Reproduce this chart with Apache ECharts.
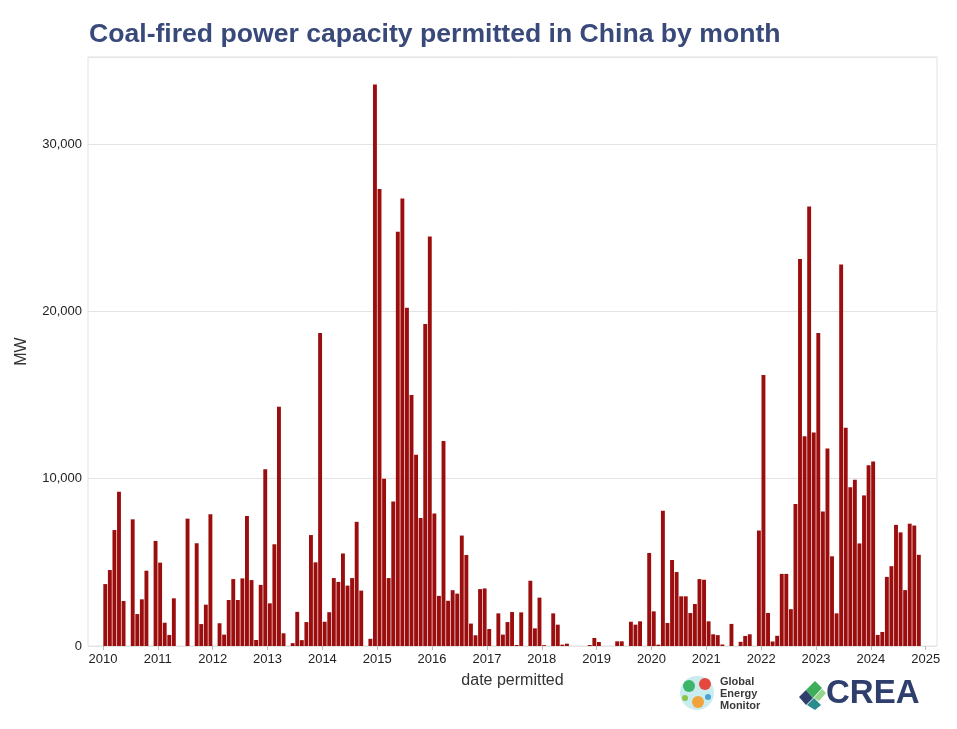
<!DOCTYPE html>
<html>
<head>
<meta charset="utf-8">
<script src="https://cdn.jsdelivr.net/npm/echarts@6/dist/echarts.min.js"></script>
<style>
html,body{margin:0;padding:0;background:#fff;}
#chart{width:957px;height:729px;}
</style>
</head>
<body>
<div id="chart"></div>
<script>
// Monthly permitted capacity (MW), Jan..Dec of each year
const years = [2010,2011,2012,2013,2014,2015,2016,2017,2018,2019,2020,2021,2022,2023,2024];
const mw2010 = [3700,4540,6930,9220,2690,0,7570,1910,2790,4500,0,6280];
const mw2011 = [4980,1390,660,2850,0,0,7610,0,6140,1310,2470,7870];
const mw2012 = [0,1360,680,2750,4000,2750,4040,7770,3940,360,3650,10560];
const mw2013 = [2550,6080,14300,760,0,170,2040,350,1430,6630,5000,18700];
const mw2014 = [1450,2020,4060,3830,5530,3610,4060,7420,3310,0,430,33550];
const mw2015 = [27310,10000,4060,8640,24750,26750,20210,15000,11430,7650,19240,24480];
const mw2016 = [7920,2995,12250,2700,3335,3130,6600,5440,1340,640,3400,3440];
const mw2017 = [1015,0,1950,680,1430,2030,60,2010,0,3900,1055,2890];
const mw2018 = [50,0,1950,1275,80,140,0,0,0,0,60,480];
const mw2019 = [240,0,0,0,280,280,0,1450,1275,1475,0,5560];
const mw2020 = [2070,80,8090,1375,5140,4420,2970,2970,1970,2510,4000,3960];
const mw2021 = [1475,700,650,90,0,1320,0,250,600,700,0,6900];
const mw2022 = [16200,1975,270,610,4310,4310,2200,8490,23130,12530,26260,12760];
const mw2023 = [18700,8040,11800,5360,1950,22800,13050,9490,9940,6130,9000,10800];
const mw2024 = [11030,660,840,4130,4770,7240,6790,3340,7310,7200,5450,null];
const yearTicks = [2010,2011,2012,2013,2014,2015,2016,2017,2018,2019,2020,2021,2022,2023,2024,2025];
const yTicks = [0,10000,20000,30000];

const allYears = [mw2010,mw2011,mw2012,mw2013,mw2014,mw2015,mw2016,mw2017,mw2018,mw2019,mw2020,mw2021,mw2022,mw2023,mw2024];
const barData = [];
allYears.forEach((arr, yi) => {
  arr.forEach((v, m) => {
    if (v !== null && v > 0) barData.push([yi * 12 + m + 0.5, v]);
  });
});
const tickVals = yearTicks.map(y => (y - 2010) * 12);

const chart = echarts.init(document.getElementById('chart'), null, {renderer: 'canvas'});
const FONT = 'Liberation Sans, Arial, sans-serif';
chart.setOption({
  animation: false,
  backgroundColor: '#ffffff',
  title: {
    text: 'Coal-fired power capacity permitted in China by month',
    left: 84, top: 16,
    textStyle: {fontFamily: FONT, fontWeight: 'bold', fontSize: 26.6, color: '#38497a'}
  },
  grid: {left: 88, right: 20, top: 57, bottom: 83, outerBoundsMode: 'none', containLabel: false,
         show: true, borderColor: '#e2e2e2', borderWidth: 1, backgroundColor: '#fff'},
  xAxis: {
    type: 'value',
    min: -3.28, max: 182.47,
    name: 'date permitted', nameLocation: 'middle', nameGap: 27,
    nameTextStyle: {fontFamily: FONT, fontSize: 16, color: '#333'},
    axisLine: {show: false},
    axisTick: {show: true, customValues: tickVals, length: 4, lineStyle: {color: '#bbb'}},
    axisLabel: {customValues: tickVals, formatter: v => String(2010 + Math.round(v / 12)), fontFamily: FONT, fontSize: 13, color: '#222', margin: 7},
    splitLine: {show: false}
  },
  yAxis: {
    type: 'value',
    min: 0, max: 35200,
    name: 'MW', nameLocation: 'middle', nameGap: 58, nameRotate: 90,
    nameTextStyle: {fontFamily: FONT, fontSize: 16, color: '#333'},
    axisLine: {show: false}, axisTick: {show: false},
    axisLabel: {customValues: yTicks, formatter: v => v.toLocaleString('en-US'), fontFamily: FONT, fontSize: 13, color: '#222', margin: 6},
    splitLine: {show: true, lineStyle: {color: '#e4e4e4', width: 1}}
  },
  series: [{
    type: 'bar',
    data: barData,
    barWidth: 3.9,
    itemStyle: {color: '#9c0e0e'},
    emphasis: {disabled: true}
  }],
  graphic: [
    {type: 'circle', shape: {cx: 697, cy: 693, r: 17}, style: {fill: '#c9ecef'}},
    {type: 'circle', shape: {cx: 689, cy: 686, r: 6}, style: {fill: '#3cb46a'}},
    {type: 'circle', shape: {cx: 705, cy: 684, r: 6}, style: {fill: '#e5483c'}},
    {type: 'circle', shape: {cx: 698, cy: 702, r: 6}, style: {fill: '#f2a23a'}},
    {type: 'circle', shape: {cx: 708, cy: 697, r: 3}, style: {fill: '#4aa3d8'}},
    {type: 'circle', shape: {cx: 685, cy: 698, r: 3}, style: {fill: '#8bc34a'}},
    {type: 'text', left: 720, top: 676, style: {text: 'Global\nEnergy\nMonitor', font: 'bold 11px Liberation Sans, Arial, sans-serif', lineHeight: 12, fill: '#3a3a3a'}},
    {type: 'polygon', shape: {points: [[799,697],[806,690],[813,698],[806,705]]}, style: {fill: '#2e3f6e'}},
    {type: 'polygon', shape: {points: [[806,690],[815,681],[822,688],[813,698]]}, style: {fill: '#3fae5a'}},
    {type: 'polygon', shape: {points: [[807,705],[814,698],[821,705],[815,710]]}, style: {fill: '#2a8c8c'}},
    {type: 'polygon', shape: {points: [[814,698],[822,689],[826,693],[819,701]]}, style: {fill: '#93d48a'}},
    {type: 'text', left: 826, top: 677, style: {text: 'CREA', font: 'bold 33px Liberation Sans, Arial, sans-serif', fill: '#2e3f6e'}}
  ]
});
</script>
</body>
</html>
